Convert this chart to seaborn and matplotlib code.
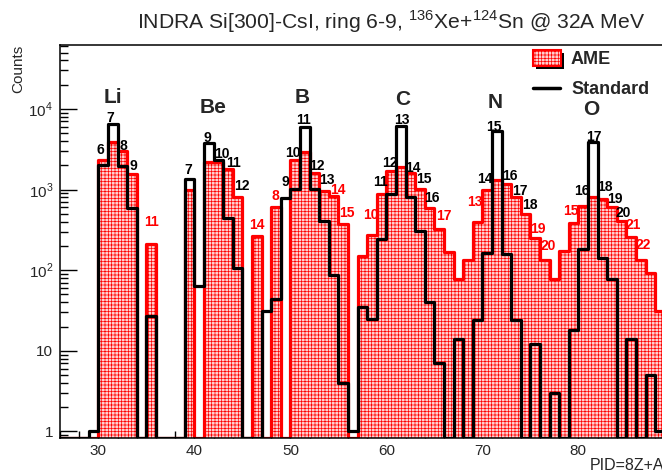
import numpy as np
import pandas as pd
import matplotlib
matplotlib.use("Agg")
import matplotlib.pyplot as plt
from matplotlib.patches import Rectangle
from matplotlib.lines import Line2D
from matplotlib.ticker import FixedLocator, FixedFormatter, LogLocator, MultipleLocator, NullFormatter
import seaborn as sns

# PID = 8Z + A, one bin per unit from 26 to 90
pid_edges = list(range(26, 91))

ame_counts = [0, 0, 0, 0, 2330, 3860, 3030, 1560, 0, 210,
              0, 0, 0, 990, 0, 2220, 2220, 1800, 814, 0,
              268, 0, 602, 0, 2330, 2900, 1600, 960, 830, 375,
              0, 152, 274, 881, 1715, 1920, 1600, 1030, 587, 322,
              170, 77, 134, 400, 989, 1315, 1164, 817, 499, 254,
              134, 77, 175, 389, 630, 817, 765, 614, 412, 256,
              134, 93, 31, 20]

standard_counts = [0, 0, 0, 1, 2000, 6440, 1960, 586, 0, 27,
                   0, 0, 0, 1350, 63, 3740, 2330, 441, 106, 0,
                   0, 31, 44, 780, 1010, 6030, 1010, 412, 87, 4,
                   1, 35, 25, 244, 873, 6160, 803, 305, 40, 7,
                   0, 14, 0, 24, 165, 5320, 159, 24, 0, 12,
                   0, 3, 0, 18, 184, 3860, 141, 77, 0, 14,
                   0, 5, 1, 0]

element_names = ["Li", "Be", "B", "C", "N", "O"]
element_x = [31.5, 42.0, 51.2, 61.7, 71.3, 81.3]
element_y = [13800, 10400, 14000, 13100, 12000, 9800]

mass_text = ["6", "7", "8", "9", "11",
             "7", "9", "10", "11", "12", "14",
             "8", "9", "10", "11", "12", "13", "14", "15",
             "10", "11", "12", "13", "14", "15", "16", "17",
             "13", "14", "15", "16", "17", "18", "19", "20",
             "15", "16", "17", "18", "19", "20", "21", "22"]
mass_red = [0, 0, 0, 0, 1,
            0, 0, 0, 0, 0, 1,
            1, 0, 0, 0, 0, 0, 1, 1,
            1, 0, 0, 0, 0, 0, 0, 1,
            1, 0, 0, 0, 0, 0, 1, 1,
            1, 0, 0, 0, 0, 0, 1, 1]
mass_x = [30.21, 31.28, 32.58, 33.63, 35.53,
          39.35, 41.31, 42.86, 44.04, 44.91, 46.47,
          48.47, 49.48, 50.26, 51.41, 52.76, 53.80, 54.90, 55.84,
          58.36, 59.35, 60.36, 61.57, 62.79, 63.89, 64.79, 66.0,
          69.22, 70.26, 71.25, 72.90, 73.91, 74.95, 75.81, 76.85,
          79.27, 80.36, 81.59, 82.81, 83.80, 84.70, 85.76, 86.80]
mass_y = [3210, 8000, 3640, 2020, 414,
          1815, 4530, 2900, 2218, 1150, 375,
          875, 1278, 2950, 7560, 2058, 1353, 1026, 538,
          506, 1278, 2243, 7560, 1905, 1393, 826, 489,
          722, 1393, 6270, 1530, 1009, 673, 334, 210,
          570, 997, 4710, 1130, 787, 538, 378, 214]

xtick_vals = [30, 40, 50, 60, 70, 80]
ytick_vals = [1, 10, 100, 1000, 10000]
ytick_text = ["1", "10", "$10^{2}$", "$10^{3}$", "$10^{4}$"]

sns.set_style("ticks")
plt.rcParams["font.family"] = ["Liberation Sans", "DejaVu Sans"]
plt.rcParams["mathtext.fontset"] = "custom"
plt.rcParams["mathtext.rm"] = "Liberation Sans"
plt.rcParams["mathtext.bf"] = "Liberation Sans:bold"
plt.rcParams["hatch.linewidth"] = 0.5

ymin, ymax = 0.83, 6.2e4
df = pd.DataFrame({
    "pid": np.array(pid_edges[:-1]) + 0.5,
    # empty bins sit on the bottom of the log axis, as ROOT draws them
    "ame": np.clip(np.array(ame_counts, dtype=float), ymin, None),
    "std": np.clip(np.array(standard_counts, dtype=float), ymin, None),
})

fill_face = "#ffd0d0"
fill_hatch = "+++++"

fig = plt.figure(figsize=(6.62, 4.72), dpi=100)
ax = fig.add_axes([0.0906, 0.072, 0.928, 0.8326])
ax.set_yscale("log")

sns.histplot(data=df, x="pid", weights="ame", bins=pid_edges, element="step", fill=True,
             ax=ax, zorder=1, facecolor=fill_face, edgecolor="red", linewidth=0, hatch=fill_hatch)
sns.histplot(data=df, x="pid", weights="ame", bins=pid_edges, element="step", fill=False,
             color="red", linewidth=2.3, ax=ax, zorder=2)
sns.histplot(data=df, x="pid", weights="std", bins=pid_edges, element="step", fill=False,
             color="black", linewidth=2.3, ax=ax, zorder=3)

ax.set_xlim(26, 90)
ax.set_ylim(ymin, ymax)
ax.set_xlabel("")
ax.set_ylabel("")

ax.xaxis.set_major_locator(FixedLocator(xtick_vals))
ax.xaxis.set_minor_locator(MultipleLocator(2))
ax.yaxis.set_major_locator(FixedLocator(ytick_vals))
ax.yaxis.set_major_formatter(FixedFormatter(ytick_text))
ax.yaxis.set_minor_locator(LogLocator(base=10, subs=np.arange(2, 10)))
ax.yaxis.set_minor_formatter(NullFormatter())
ax.tick_params(axis="both", which="both", direction="in", width=1.0, color="black",
               labelsize=11, top=False, right=False)
ax.tick_params(axis="y", which="major", length=12, pad=5)
ax.tick_params(axis="y", which="minor", length=6)
ax.tick_params(axis="x", which="major", length=9, pad=4)
ax.tick_params(axis="x", which="minor", length=5)
for sp in ax.spines.values():
    sp.set_linewidth(1.1)
    sp.set_color("black")
    sp.set_zorder(5)

for name, x, y in zip(element_names, element_x, element_y):
    ax.text(x, y, name, ha="center", va="center", fontsize=15, fontweight="bold", zorder=6)

for t, r, x, y in zip(mass_text, mass_red, mass_x, mass_y):
    ax.text(x, y, t, ha="center", va="center_baseline", fontsize=10, fontweight="bold",
            color="red" if r else "black", zorder=6)

fig.text(391 / 662, 1 - 28.5 / 472,
         "INDRA Si[300]-CsI, ring 6-9, $^{136}$Xe+$^{124}$Sn @ 32A MeV",
         ha="center", va="baseline", fontsize=15.2)
fig.text(18.3 / 662, 1 - 45 / 472, "Counts", rotation=90, ha="center", va="top", fontsize=11)
fig.text(590 / 662, 1 - 470 / 472, "PID=8Z+A", ha="left", va="baseline", fontsize=11.5)

# legend drawn by hand, ROOT style
W, H = 662, 472
fig.add_artist(Rectangle((536 / W, 1 - 69 / H), 28 / W, 16 / H, transform=fig.transFigure,
                         facecolor="black", edgecolor="black", linewidth=0))
fig.add_artist(Rectangle((533 / W, 1 - 66 / H), 28 / W, 16 / H, transform=fig.transFigure,
                         facecolor=fill_face, edgecolor="red", linewidth=1.5, hatch=fill_hatch))
fig.add_artist(Line2D([533 / W, 560 / W], [1 - 88.3 / H, 1 - 88.3 / H], transform=fig.transFigure,
                      color="black", linewidth=2.5))
fig.text(571 / W, 1 - 59.5 / H, "AME", ha="left", va="center", fontsize=13, fontweight="bold")
fig.text(571 / W, 1 - 89.5 / H, "Standard", ha="left", va="center", fontsize=13, fontweight="bold")

fig.savefig("out.png", dpi=100, facecolor="white")
